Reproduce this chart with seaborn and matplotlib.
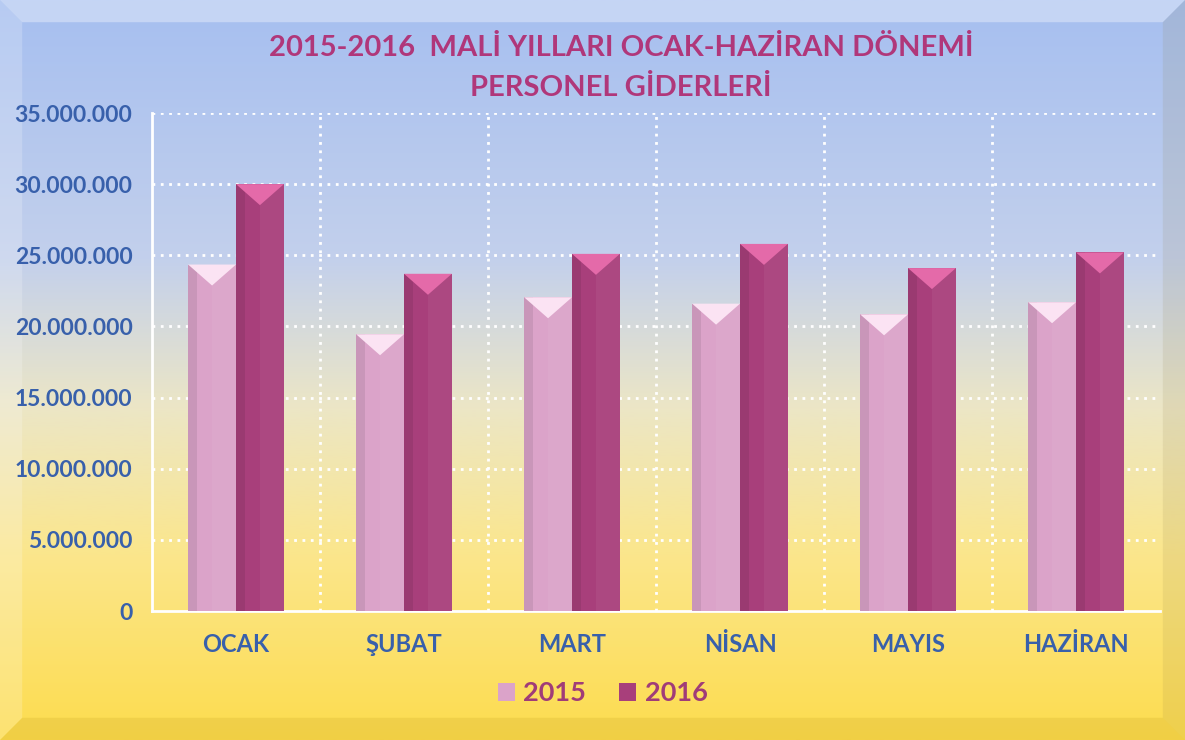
import numpy as np
import pandas as pd
import matplotlib
matplotlib.use("Agg")
import matplotlib.pyplot as plt
import seaborn as sns
from matplotlib.colors import LinearSegmentedColormap
from matplotlib.patches import Polygon, Rectangle
from matplotlib.ticker import FuncFormatter, MultipleLocator

# Chart data
months = ["OCAK", "ŞUBAT", "MART", "NİSAN", "MAYIS", "HAZİRAN"]
years = ["2015", "2016"]
spend_2015 = [24_350_000, 19_450_000, 22_050_000, 21_600_000, 20_850_000, 21_700_000]
spend_2016 = [30_000_000, 23_700_000, 25_100_000, 25_800_000, 24_100_000, 25_200_000]

df = pd.DataFrame({
    "month": months * 2,
    "year": [years[0]] * len(months) + [years[1]] * len(months),
    "value": spend_2015 + spend_2016,
})

sns.set_theme(style="white")
plt.rcParams["font.family"] = ["Lato", "DejaVu Sans"]
plt.rcParams["font.weight"] = "bold"

blue_txt = "#3860ab"
title_col = "#b0377a"
palette = {"2015": "#dba3c9", "2016": "#a83f7b"}
caps = {"2015": "#fbe3f3", "2016": "#e46aa9"}

fig = plt.figure(figsize=(11.85, 7.4), dpi=100)

# background gradient (blue on top -> yellow at the bottom)
bg = fig.add_axes([0, 0, 1, 1], zorder=-2)
grad = LinearSegmentedColormap.from_list(
    "bg", [(0.0, "#a6bff0"), (0.35, "#c3d0ec"), (0.55, "#ece6c6"),
           (0.75, "#fbe68c"), (1.0, "#fddc4e")])
bg.imshow(np.linspace(0, 1, 256).reshape(-1, 1), cmap=grad, aspect="auto",
          extent=[0, 1, 0, 1], origin="upper")
# bevel frame
b = 0.03
bx = b * 740 / 1185
bg.add_patch(Polygon([(0, 1), (1, 1), (1 - bx, 1 - b), (bx, 1 - b)], color="white", alpha=0.35, lw=0))
bg.add_patch(Polygon([(0, 0), (0, 1), (bx, 1 - b), (bx, b)], color="white", alpha=0.2, lw=0))
bg.add_patch(Polygon([(1, 0), (1, 1), (1 - bx, 1 - b), (1 - bx, b)], color="#8a7a40", alpha=0.12, lw=0))
bg.add_patch(Polygon([(0, 0), (1, 0), (1 - bx, b), (bx, b)], color="#b08a10", alpha=0.15, lw=0))
bg.set_xlim(0, 1)
bg.set_ylim(0, 1)
bg.axis("off")

ax = fig.add_axes([152 / 1185, 1 - 611 / 740, (1160 - 152) / 1185, (611 - 113) / 740])
ax.set_facecolor("none")

sns.barplot(data=df, x="month", y="value", hue="year", palette=palette,
            hue_order=years, order=months, width=0.57, saturation=1,
            edgecolor="none", ax=ax, zorder=3)

ax.set_ylim(0, 35_000_000)
ax.set_xlim(-0.5, len(months) - 0.5)
ax.yaxis.set_major_locator(MultipleLocator(5_000_000))
ax.yaxis.set_major_formatter(FuncFormatter(lambda v, p: f"{int(v):,}".replace(",", ".")))

# bevel shading on each bar: darker left strip + pyramid cap
fig.canvas.draw()
px = ax.transData.inverted().transform([(0, 0), (0, 21)])
cap_h = px[1, 1] - px[0, 1]
for cont, yr in zip(ax.containers, years):
    for bar in cont:
        x0, w, h = bar.get_x(), bar.get_width(), bar.get_height()
        ax.add_patch(Rectangle((x0, 0), w * 0.18, h, color="black", alpha=0.08, lw=0, zorder=4))
        ax.add_patch(Rectangle((x0 + w * 0.5, 0), w * 0.5, h, color="white", alpha=0.05, lw=0, zorder=4))
        ax.add_patch(Polygon([(x0, h), (x0 + w, h), (x0 + w / 2, h - cap_h)],
                             color=caps[yr], lw=0, zorder=5))

# grid: white dotted horizontal lines and category separators
for v in np.arange(5_000_000, 35_000_001, 5_000_000):
    ax.axhline(v, color="white", ls=(0, (1, 2)), lw=2, zorder=1)
for k in range(1, len(months)):
    ax.axvline(k - 0.5, color="white", ls=(0, (1, 2)), lw=2, zorder=1)

for s in ["top", "right"]:
    ax.spines[s].set_visible(False)
for s in ["left", "bottom"]:
    ax.spines[s].set_color("white")
    ax.spines[s].set_linewidth(2)

ax.set_xticks(range(len(months)))
ax.set_xticklabels(months)
ax.tick_params(axis="x", length=0, pad=16, labelsize=17, labelcolor=blue_txt)
ax.tick_params(axis="y", length=5, width=2, color="white", pad=9, labelsize=16.5, labelcolor=blue_txt)
ax.set_xticks(np.arange(0.5, len(months) - 0.5), minor=True)
ax.tick_params(axis="x", which="minor", length=5, width=2, color="white")
for lbl in ax.get_xticklabels() + ax.get_yticklabels():
    lbl.set_fontweight("bold")
ax.set_xlabel("")
ax.set_ylabel("")

leg = ax.legend(loc="center", bbox_to_anchor=(0.447, -0.165), ncol=2, frameon=False,
                handlelength=0.65, handleheight=0.65, handletextpad=0.3, columnspacing=1.2,
                prop={"size": 19.5, "weight": "bold"})
for t in leg.get_texts():
    t.set_color("#a03c78")

fig.text(0.524, 0.935, "2015-2016  MALİ YILLARI OCAK-HAZİRAN DÖNEMİ", ha="center", va="center",
         fontsize=21, fontweight="bold", color=title_col)
fig.text(0.524, 0.881, "PERSONEL GİDERLERİ", ha="center", va="center",
         fontsize=21, fontweight="bold", color=title_col)

fig.savefig("out.png", dpi=100)
